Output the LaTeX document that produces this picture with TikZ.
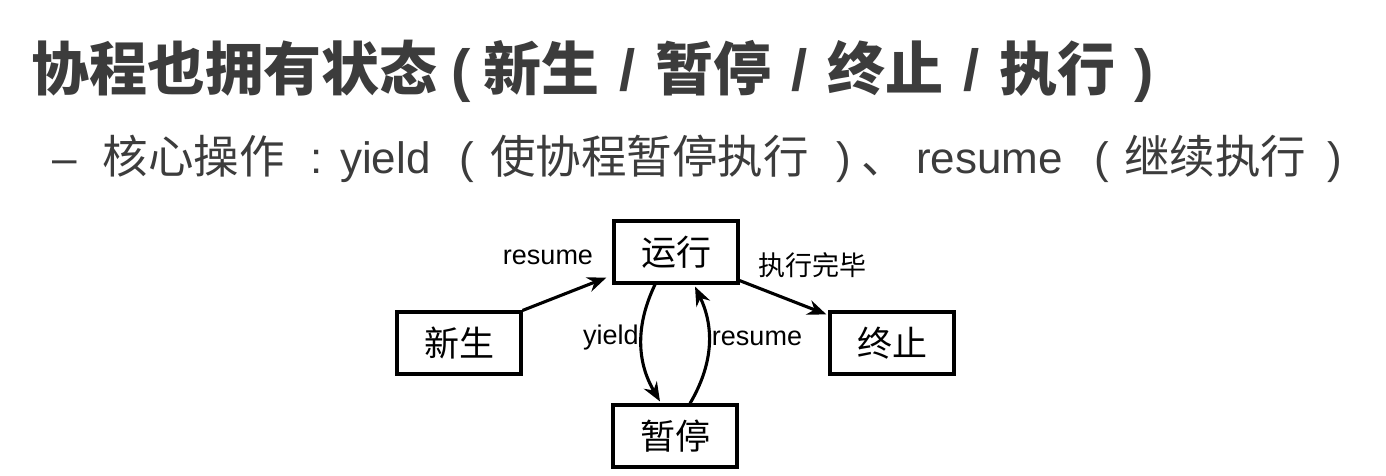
\documentclass[tikz,border=0pt]{standalone}
\usepackage{fontspec}
\setmainfont{Liberation Sans}
\newfontfamily\cjk{Noto Sans CJK SC}
\usetikzlibrary{arrows.meta,calc}
\definecolor{txtgray}{HTML}{3C3C3C}
\newcommand{\ttc}[1]{{\cjk\bfseries\fontsize{58}{64}\selectfont #1}}
\newcommand{\ttl}[1]{{\bfseries\fontsize{58}{64}\selectfont #1}}
\newcommand{\ssc}[1]{{\cjk\fontsize{45.5}{50}\selectfont #1}}
\tikzset{
  statebox/.style={draw=black, line width=3.1pt, minimum width=124pt, minimum height=62pt, inner sep=0pt, font=\cjk\fontsize{35}{40}\selectfont},
  lbl/.style={inner sep=0pt, font=\fontsize{27}{30}\selectfont},
  arr/.style={line width=3.1pt, -{Stealth[length=19pt,width=15pt]}},
}
\begin{document}
\begin{tikzpicture}[x=1pt,y=-1pt]
\useasboundingbox[fill=white] (0,0) rectangle (1386,476);
\node[anchor=base west, inner sep=0pt, text=txtgray] (title) at (31,91) {\ttc{协程也拥有状态}\hspace{14pt}\ttl{(}\hspace{12.7pt}\ttc{新生}\hspace{20pt}\ttl{/}\hspace{20pt}\ttc{暂停}\hspace{20pt}\ttl{/}\hspace{20pt}\ttc{终止}\hspace{20pt}\ttl{/}\hspace{20pt}\ttc{执行}\hspace{19pt}\ttl{)}};
\node[anchor=base west, inner sep=0pt, text=txtgray, font=\fontsize{44}{50}\selectfont] (sub) at (52,173) {–\hspace{26pt}\ssc{核心操作}\hspace{25.5pt}:\hspace{17.8pt}yield\hspace{28.5pt}(\hspace{16.3pt}\ssc{使协程暂停执行}\hspace{27.5pt})\hspace{10.3pt}\ssc{、}\hspace{9.5pt}resume\hspace{31.3pt}(\hspace{15.3pt}\ssc{继续执行}\hspace{21pt})};

\node[statebox] (yx) at (676,252) {运行};
\node[statebox] (xs) at (459,343) {新生};
\node[statebox] (zz) at (892,343) {终止};
\node[statebox] (zt) at (675,436) {暂停};

\draw[arr] (xs.north east) -- ([xshift=-6pt,yshift=7pt]yx.south west);
\draw[arr] ([yshift=4pt]yx.south east) -- ([xshift=-2pt,yshift=-4pt]zz.north west);
\draw[arr] ([xshift=-21pt]yx.south) to[bend right=28] ([xshift=-15pt,yshift=2pt]zt.north);
\draw[arr] ([xshift=15pt]zt.north) to[bend right=28] ([xshift=19pt,yshift=-2pt]yx.south);

\node[lbl] (l1) at (548,257) {resume};
\node[lbl, font=\cjk\fontsize{27}{30}\selectfont] (l2) at (812,265) {执行完毕};
\node[lbl] (l3) at (611,338) {yield};
\node[lbl] (l4) at (757,338) {resume};
\end{tikzpicture}
\end{document}
